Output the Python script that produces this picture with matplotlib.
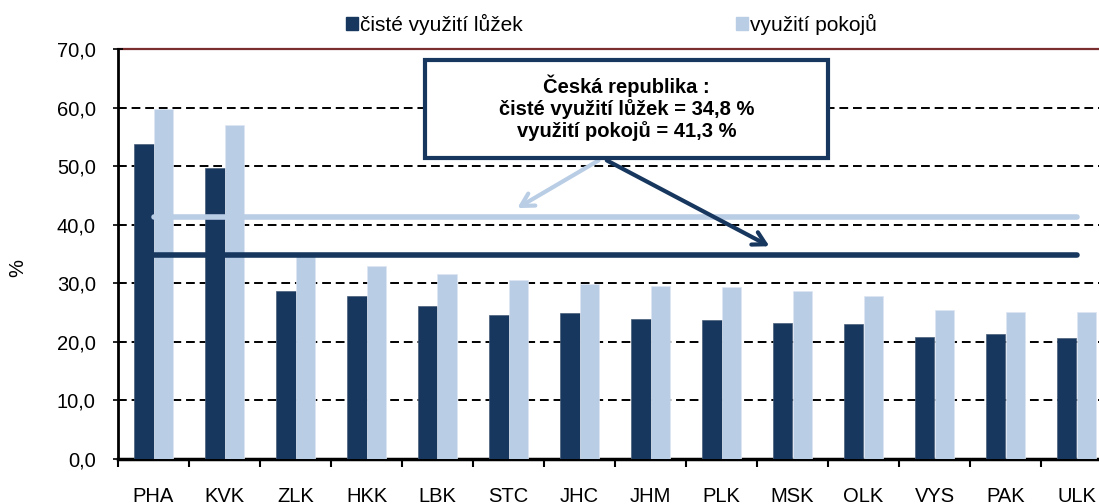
import numpy as np
import matplotlib.pyplot as plt
from matplotlib.patches import Rectangle, Patch

# data
regions = ['PHA', 'KVK', 'ZLK', 'HKK', 'LBK', 'STC', 'JHC', 'JHM',
           'PLK', 'MSK', 'OLK', 'VYS', 'PAK', 'ULK']
beds = [53.8, 49.7, 28.6, 27.8, 26.2, 24.6, 24.9, 23.9,
        23.7, 23.2, 23.1, 20.8, 21.3, 20.7]
rooms = [59.8, 57.0, 34.9, 32.9, 31.6, 30.5, 29.8, 29.5,
         29.4, 28.7, 27.8, 25.5, 25.1, 25.1]
cz_beds = 34.8
cz_rooms = 41.3
box_text = "Česká republika :\nčisté využití lůžek = 34,8 %\nvyužití pokojů = 41,3 %"
legend_labels = ['čisté využití lůžek', 'využití pokojů']

dark = '#17375E'
light = '#B9CDE5'

plt.rcParams['font.family'] = ['Liberation Sans', 'DejaVu Sans']

fig = plt.figure(figsize=(10.99, 5.04), dpi=100)
ax = fig.add_axes([118 / 1099, 45 / 504, 994 / 1099, 410 / 504])

x = np.arange(len(regions))
w = 0.28
ax.bar(x - w / 2, beds, w, color=dark, edgecolor='#4a5f7a', linewidth=0.5, zorder=3)
ax.bar(x + w / 2, rooms, w, color=light, edgecolor='#dde6f1', linewidth=0.5, zorder=3)

# grid
for v in range(10, 70, 10):
    ax.axhline(v, color='black', linestyle=(0, (4.5, 2.5)), linewidth=1.4, zorder=1)
ax.axhline(70, color='#7a2e2e', linewidth=1.6, zorder=1, clip_on=False)

# national averages
ax.plot([x[0], x[-1]], [cz_rooms, cz_rooms], color=light, linewidth=4,
        solid_capstyle='round', zorder=4)
ax.plot([x[0], x[-1]], [cz_beds, cz_beds], color=dark, linewidth=4,
        solid_capstyle='round', zorder=4)

# annotation box
bx0, bx1 = 3.82, 9.5
by0, by1 = 51.4, 68.1
ax.add_patch(Rectangle((bx0, by0), bx1 - bx0, by1 - by0, facecolor='white',
                       edgecolor=dark, linewidth=3, zorder=6))
ax.text((bx0 + bx1) / 2, (by0 + by1) / 2 + 0.2, box_text, ha='center', va='center',
        fontsize=14.5, fontweight='bold', linespacing=1.15, zorder=7)
ax.annotate('', xy=(5.09, 42.6), xytext=(6.3, 51.2),
            arrowprops=dict(arrowstyle='->,head_length=0.9,head_width=0.5',
                            color=light, lw=3), zorder=5)
ax.annotate('', xy=(8.71, 36.1), xytext=(6.35, 51.2),
            arrowprops=dict(arrowstyle='->,head_length=0.9,head_width=0.5',
                            color=dark, lw=3), zorder=5)

ax.set_xlim(-0.5, len(regions) - 0.5)
ax.set_ylim(0, 70)
ax.set_yticks(range(0, 80, 10))
ax.set_yticklabels([f'{v:.1f}'.replace('.', ',') for v in range(0, 80, 10)],
                   fontsize=14.5)
ax.set_xticks(x)
ax.set_xticklabels(regions, fontsize=14.5)
ax.set_xticks(np.arange(-0.5, len(regions), 1), minor=True)
ax.tick_params(axis='x', which='major', length=0, pad=20)
ax.tick_params(axis='x', which='minor', length=6, width=1.5, direction='out')
ax.tick_params(axis='y', length=7, width=1.2, direction='inout', pad=12.5)
ax.set_ylabel('%', fontsize=14.5)
ax.yaxis.set_label_coords(-0.0915, 0.466)

for s in ['top', 'right']:
    ax.spines[s].set_visible(False)
ax.spines['left'].set_linewidth(2)
ax.spines['bottom'].set_linewidth(2.5)

handles = [Patch(color=dark), Patch(color=light)]
fig.legend(handles, legend_labels, loc='center', bbox_to_anchor=(0.5564, 0.952),
           ncol=2, frameon=False, fontsize=15, handlelength=0.6,
           handleheight=0.6, handletextpad=0.1, columnspacing=10.2)

fig.savefig('out.png', dpi=100)
